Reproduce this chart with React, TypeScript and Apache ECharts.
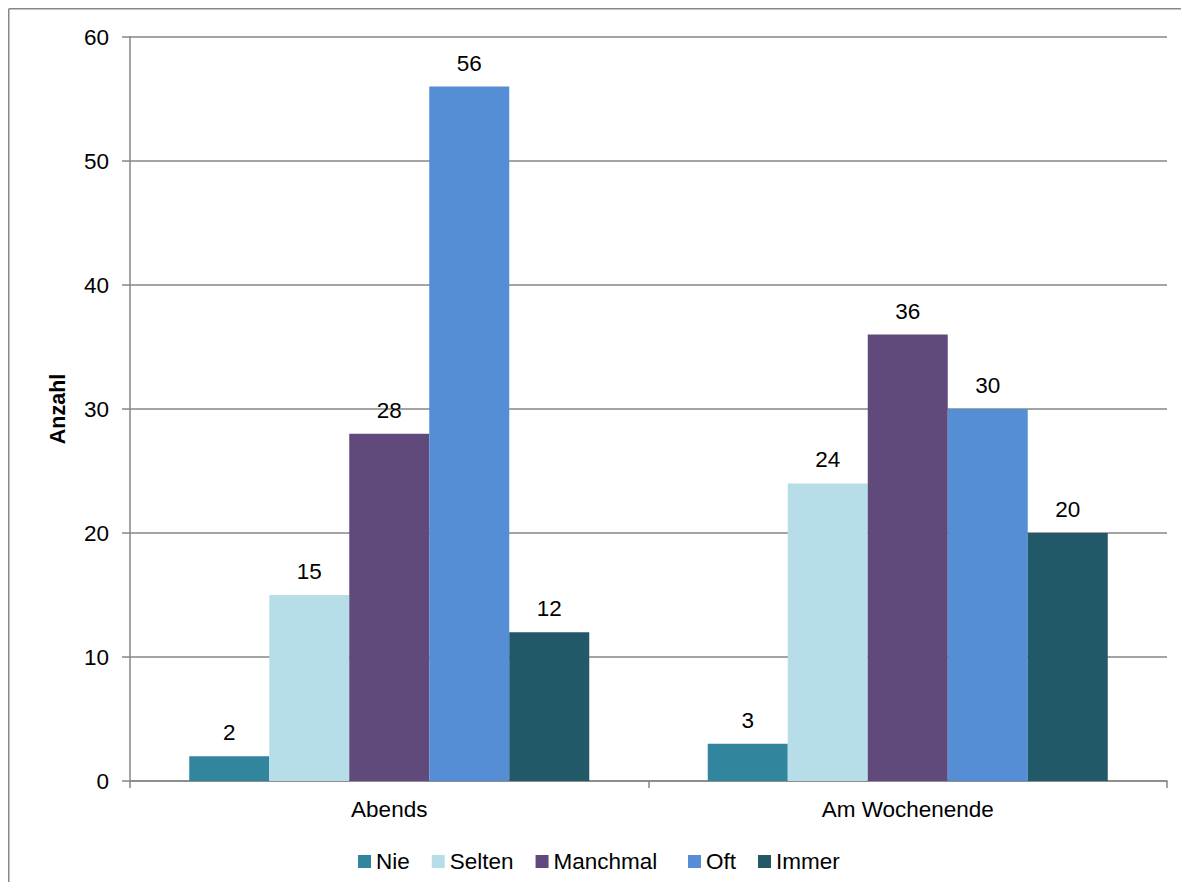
import React, { useEffect, useRef } from "react";
import * as echarts from "echarts";

const categories = ["Abends", "Am Wochenende"];
const seriesNames = ["Nie", "Selten", "Manchmal", "Oft", "Immer"];
const nie = [2, 3];
const selten = [15, 24];
const manchmal = [28, 36];
const oft = [56, 30];
const immer = [12, 20];
const colors = ["#31859C", "#B7DEE8", "#604A7B", "#558ED5", "#215968"];
const yTicks = [0, 10, 20, 30, 40, 50, 60];

export default function App() {
  const ref = useRef<HTMLDivElement>(null);
  useEffect(() => {
    const chart = echarts.init(ref.current!, null, { renderer: "svg" });
    const values = [nie, selten, manchmal, oft, immer];
    const font = "'Liberation Sans', Arial, sans-serif";
    const legendText = { fontSize: 22.5, color: "#000", fontFamily: font };
    const borderStyle = { stroke: "#888888", lineWidth: 1.5 };
    chart.setOption({
      animation: false,
      textStyle: { fontFamily: font },
      graphic: [
        { type: "line", shape: { x1: 0.75, y1: 0.75, x2: 1400, y2: 0.75 }, style: borderStyle, silent: true },
        { type: "line", shape: { x1: 0.75, y1: 0.75, x2: 0.75, y2: 1100 }, style: borderStyle, silent: true },
      ],
      grid: { left: 122, top: 29, width: 1037, height: 744, containLabel: false },
      legend: [
        {
          left: 345,
          top: 837,
          itemWidth: 13,
          itemHeight: 13,
          itemGap: 22,
          icon: "rect",
          data: seriesNames.slice(0, 3),
          textStyle: legendText,
        },
        {
          left: 675,
          top: 837,
          itemWidth: 13,
          itemHeight: 13,
          itemGap: 22,
          icon: "rect",
          data: seriesNames.slice(3),
          textStyle: legendText,
        },
      ],
      xAxis: {
        type: "category",
        data: categories,
        axisLine: { lineStyle: { color: "#868686", width: 1.5 } },
        axisTick: { show: true, length: 7, alignWithLabel: false, lineStyle: { color: "#868686", width: 1.5 } },
        axisLabel: { fontSize: 22.5, color: "#000", margin: 17, fontFamily: font },
      },
      yAxis: {
        type: "value",
        min: yTicks[0],
        max: yTicks[yTicks.length - 1],
        interval: 10,
        name: "Anzahl",
        nameLocation: "middle",
        nameGap: 61,
        nameRotate: 90,
        nameTextStyle: { fontSize: 21.5, fontWeight: "bold", color: "#000", fontFamily: font },
        axisLine: { show: true, lineStyle: { color: "#868686", width: 1.5 } },
        axisTick: { show: true, length: 8, lineStyle: { color: "#868686", width: 1.5 } },
        axisLabel: { fontSize: 22.5, color: "#000", margin: 21, fontFamily: font },
        splitLine: { show: true, lineStyle: { color: "#868686", width: 1.5 } },
      },
      series: seriesNames.map((name, i) => ({
        name,
        type: "bar",
        data: values[i],
        barWidth: 80,
        barGap: "0%",
        itemStyle: { color: colors[i] },
        label: {
          show: true,
          position: "top",
          distance: 12,
          fontSize: 22.5,
          color: "#000",
          fontFamily: font,
        },
      })),
    });
    return () => chart.dispose();
  }, []);
  return (
    <div style={{ width: 1173, height: 874, overflow: "hidden" }}>
      <div ref={ref} style={{ width: 1250, height: 950 }} />
    </div>
  );
}
